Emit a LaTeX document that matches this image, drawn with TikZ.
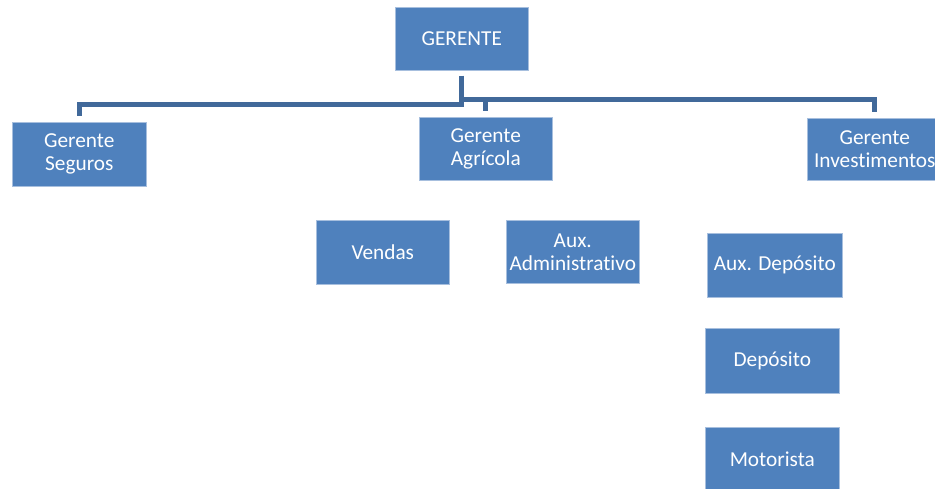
\documentclass[tikz,border=0pt]{standalone}
\usepackage{fontspec}
\setmainfont[Ligatures=NoCommon]{Carlito}
\definecolor{boxblue}{HTML}{4F81BD}
\definecolor{edgeblue}{HTML}{A7BFDE}
\definecolor{lineblue}{HTML}{41699A}
\begin{document}
\begin{tikzpicture}[x=1pt,y=-1pt,
  box/.style={fill=boxblue, draw=edgeblue, line width=0.6pt, text=white, anchor=north west,
    inner sep=0pt, align=center, font=\fontsize{21.3}{23}\selectfont},
  conn/.style={draw=lineblue, line width=5pt, line join=miter}]
\useasboundingbox (0,0) rectangle (935,488);
\node[box, minimum width=133, minimum height=63] (ger) at (395,7) {GERENTE};
\node[box, minimum width=134, minimum height=64] (seg) at (12,122) {Gerente\\Seguros};
\node[box, minimum width=133, minimum height=63] (agr) at (419,117) {Gerente\\Agrícola};
\node[box, minimum width=135, minimum height=62] (inv) at (807,118) {Gerente\\Investimentos};
\node[box, minimum width=133, minimum height=64] (ven) at (316,220) {Vendas};
\node[box, minimum width=133, minimum height=63] (adm) at (506,220) {Aux.\\Administrativo};
\node[box, minimum width=135, minimum height=64] (aux) at (707,233) {Aux. Depósito};
\node[box, minimum width=134, minimum height=65] (dep) at (705,328) {Depósito};
\node[box, minimum width=134, minimum height=64] (mot) at (705,427) {Motorista};
\coordinate (top) at ([yshift=-5pt]ger.south);
\coordinate (j) at ([yshift=-29pt]ger.south);
\draw[conn] (top) -- ([yshift=-34pt]ger.south) -| ([yshift=6pt]seg.north);
\draw[conn] (j) -| ([yshift=6pt]inv.north);
\draw[conn] (j -| agr.north) -- ([yshift=6pt]agr.north);
\end{tikzpicture}
\end{document}
